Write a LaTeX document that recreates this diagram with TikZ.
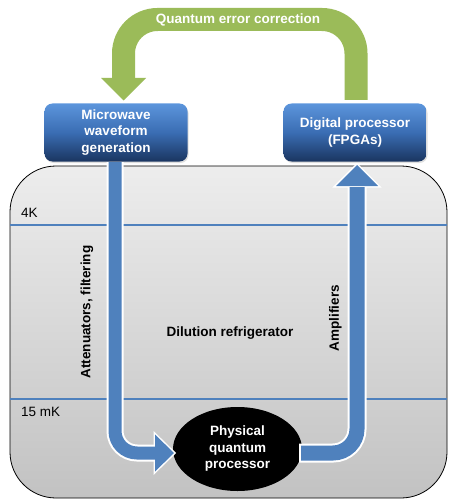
\documentclass[tikz,border=0pt]{standalone}
\usepackage{fontspec}
\setmainfont{Liberation Sans}
\usetikzlibrary{shapes.geometric,shadows}
\definecolor{arrblue}{HTML}{4F81BD}
\definecolor{qgreen}{HTML}{9BBB59}
\definecolor{boxtop}{HTML}{5C95DC}
\definecolor{boxmid}{HTML}{3A6DB3}
\definecolor{boxbot}{HTML}{1A3560}
\definecolor{fridgetop}{HTML}{EDEDED}
\definecolor{fridgebot}{HTML}{C2C2C2}
\begin{document}
\begin{tikzpicture}[x=1pt,y=-1pt,
  lbl/.style={font=\fontsize{13.5}{16.5}\selectfont\bfseries},
  plain/.style={font=\fontsize{13.5}{16}\selectfont},
  box/.style={lbl, text=white, align=center, rounded corners=8pt,
    top color=boxtop, bottom color=boxbot, middle color=boxmid,
    minimum width=143pt, minimum height=58pt, inner sep=0pt,
    drop shadow={opacity=0.25, shadow xshift=1pt, shadow yshift=-1.5pt}},
  templine/.style={arrblue, line width=1.3pt},
  whiteline/.style={white, line cap=butt},
]
\useasboundingbox (0,0) rectangle (448,500);

% dilution refrigerator body
\draw[black, line width=0.8pt, rounded corners=46pt,
  top color=fridgetop, bottom color=fridgebot] (10,166) rectangle (447,498);

% temperature stages
\draw[templine] (10.4,225) -- (446.6,225);
\draw[templine] (10.4,399) -- (446.6,399);
\node[plain, anchor=west, inner sep=0pt] (k4) at (21,213) {4K};
\node[plain, anchor=west, inner sep=0pt] (mk) at (21,412) {15 mK};

% boxes
\node[box] (mw) at (116,132.5) {Microwave\\waveform\\generation};
\node[box] (dp) at (355,132.5) {Digital processor\\(FPGAs)};

% coordinates for arrows
\coordinate (gS) at (356,100);
\coordinate (gS2) at (356,102);
\coordinate (gA) at (356,19.5);
\coordinate (gB) at (123.5,19.5);
\coordinate (gE) at (123.5,79);
\coordinate (gT) at (123.5,100.5);

% green QEC arrow
\draw[white, line width=27pt, rounded corners=34pt] (gS2) -- (gA) -- (gB) -- (gE);
\draw[white, line width=3pt, line join=miter] (101,78) -- (gT) -- (146,78) -- cycle;
\draw[qgreen, line width=23pt, rounded corners=34pt] (gS) -- (gA) -- (gB) -- (gE);
\fill[qgreen] (101,78) -- (gT) -- (146,78) -- cycle;
\node[lbl, text=white] (qec) at (238,19.5) {Quantum error correction};

% ellipse (quantum processor)
\node[ellipse, fill=black, minimum width=129pt, minimum height=84pt,
  inner sep=0pt, lbl, text=white, align=center] (qp) at (237.5,449)
  {Physical\\quantum\\processor};

% left blue arrow (down, then right into processor)
\coordinate (lS) at (115,162);
\coordinate (lC) at (115,453);
\coordinate (lE) at (157,453);
\coordinate (lT) at (174,453);
\draw[white, line width=17pt, rounded corners=22pt] (lS) -- (lC) -- (lE);
\draw[white, line width=3pt, line join=miter] (155,434.5) -- (lT) -- (155,471.5) -- cycle;
\draw[arrblue, line width=13pt, rounded corners=22pt] (lS) -- (lC) -- (lE);
\fill[arrblue] (155,434.5) -- (lT) -- (155,471.5) -- cycle;

% right blue arrow (from processor, right, then up)
\coordinate (rS2) at (299,453);
\coordinate (rS) at (301,453);
\coordinate (rC) at (357,453);
\coordinate (rE) at (357,187);
\coordinate (rT) at (357,165);
\draw[white, line width=19pt, rounded corners=24pt] (rS2) -- (rC) -- (rE);
\draw[white, line width=3pt, line join=miter] (336,186) -- (rT) -- (378,186) -- cycle;
\draw[arrblue, line width=15pt, rounded corners=24pt] (rS) -- (rC) -- (rE);
\fill[arrblue] (336,186) -- (rT) -- (378,186) -- cycle;

% labels
\node[lbl] (dil) at (230,333) {Dilution refrigerator};
\node[lbl, rotate=90] (att) at (87,312) {Attenuators, filtering};
\node[lbl, rotate=90] (amp) at (335.5,318) {Amplifiers};
\end{tikzpicture}
\end{document}
